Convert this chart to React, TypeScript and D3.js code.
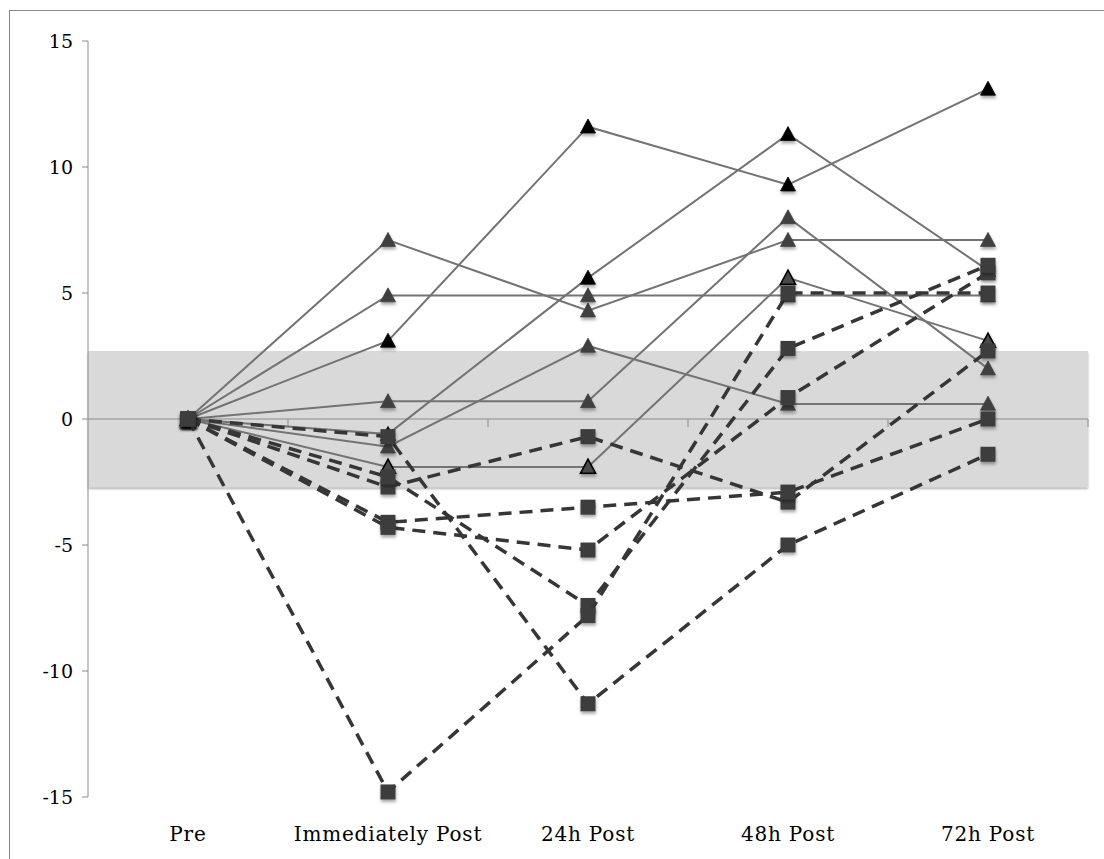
import React from "react";
import * as d3 from "d3";

const categories = ["Pre", "Immediately Post", "24h Post", "48h Post", "72h Post"];
const yTicks = [-15, -10, -5, 0, 5, 10, 15];
const bandLimit = 2.7;

// solid-line series with triangle markers
const triA = [0, 7.1, 4.3, 7.1, 7.1];
const triB = [0, 4.9, 4.9, 4.9, 4.9];
const triC = [0, 3.1, 11.6, 9.3, 13.1];
const triD = [0, 0.7, 0.7, 8.0, 2.0];
const triE = [0, -0.6, 5.6, 11.3, 5.9];
const triF = [0, -1.1, 2.9, 0.6, 0.6];
const triG = [0, -1.9, -1.9, 5.6, 3.1];

// dashed-line series with square markers
const sqA = [0, -0.7, -11.3, -5.0, -1.4];
const sqB = [0, -2.7, -0.7, -3.3, 2.7];
const sqC = [0, -4.1, -3.5, -2.9, 0.0];
const sqD = [0, -4.3, -5.2, 0.85, 5.8];
const sqE = [0, -2.3, -7.4, 2.8, 6.1];
const sqF = [0, -14.8, -7.8, 5.0, 5.0];

const triSeries = [
  { values: triA, kind: "normal" },
  { values: triB, kind: "normal" },
  { values: triC, kind: "black" },
  { values: triD, kind: "normal" },
  { values: triE, kind: "black" },
  { values: triF, kind: "normal" },
  { values: triG, kind: "outline" },
];
const sqSeries = [sqA, sqB, sqC, sqD, sqE, sqF];

export default function App() {
  const W = 1104;
  const H = 859;
  const left = 88;
  const right = 1088;
  const top = 41;
  const bottom = 797;

  const xBand = d3.scaleBand<string>().domain(categories).range([left, right]).padding(0);
  const xc = (i: number) => (xBand(categories[i]) as number) + xBand.bandwidth() / 2;
  const y = d3.scaleLinear().domain([-15, 15]).range([bottom, top]);

  const line = d3
    .line<number>()
    .x((_, i) => xc(i))
    .y((d) => y(d));

  const triPath = (cx: number, cy: number) => {
    const s = 15;
    const h = 14;
    return `M${cx},${cy - h * 0.55} L${cx + s / 2},${cy + h * 0.45} L${cx - s / 2},${cy + h * 0.45} Z`;
  };

  const font = "'DejaVu Serif', serif";

  return (
    <svg
      width={W}
      height={H}
      style={{ position: "absolute", left: 0, top: 0, background: "#fff" }}
    >
      <defs>
        <filter id="shadow" x="-50%" y="-50%" width="200%" height="220%">
          <feDropShadow dx="0.5" dy="2.5" stdDeviation="1.4" floodColor="#000" floodOpacity="0.35" />
        </filter>
        <filter id="bandShadow" x="-5%" y="-5%" width="110%" height="115%">
          <feDropShadow dx="0" dy="2" stdDeviation="1.2" floodColor="#000" floodOpacity="0.3" />
        </filter>
      </defs>

      {/* outer frame */}
      <rect x={9.5} y={10.5} width={1110} height={870} fill="none" stroke="#8a8a8a" strokeWidth={1} />

      {/* grey band */}
      <rect
        x={left}
        y={y(bandLimit)}
        width={right - left}
        height={y(-bandLimit) - y(bandLimit)}
        fill="#d9d9d9"
        filter="url(#bandShadow)"
      />

      {/* y axis */}
      <line x1={left} x2={left} y1={top} y2={bottom} stroke="#8c8c8c" strokeWidth={1} />
      {yTicks.map((t) => (
        <g key={t}>
          <line x1={left - 6} x2={left} y1={y(t)} y2={y(t)} stroke="#8c8c8c" strokeWidth={1} />
          <text
            x={73}
            y={y(t)}
            textAnchor="end"
            dominantBaseline="central"
            fontFamily={font}
            fontSize={19}
            fill="#000"
          >
            {t}
          </text>
        </g>
      ))}

      {/* x axis at zero */}
      <line x1={left} x2={right} y1={y(0)} y2={y(0)} stroke="#8c8c8c" strokeWidth={1.2} />
      {categories.map((c) => (
        <line
          key={"tk" + c}
          x1={(xBand(c) as number) + xBand.bandwidth()}
          x2={(xBand(c) as number) + xBand.bandwidth()}
          y1={y(0)}
          y2={y(0) + 8}
          stroke="#8c8c8c"
          strokeWidth={1}
        />
      ))}
      {categories.map((c, i) => (
        <text
          key={"lb" + c}
          x={xc(i)}
          y={834}
          textAnchor="middle"
          dominantBaseline="central"
          fontFamily={font}
          fontSize={20}
          letterSpacing={0.8}
          fill="#000"
        >
          {c}
        </text>
      ))}

      {/* triangle series */}
      {triSeries.map((s, si) => (
        <g key={"t" + si}>
          <path d={line(s.values) || ""} fill="none" stroke="#737373" strokeWidth={2} />
          {s.values.map((v, i) => (
            <path
              key={i}
              d={triPath(xc(i), y(v))}
              fill={s.kind === "black" ? "#000" : s.kind === "outline" ? "#4a4a4a" : "#404040"}
              stroke={s.kind === "outline" ? "#000" : s.kind === "black" ? "#000" : "#404040"}
              strokeWidth={s.kind === "outline" ? 1.6 : 0.8}
              filter="url(#shadow)"
            />
          ))}
        </g>
      ))}

      {/* square series */}
      {sqSeries.map((vals, si) => (
        <g key={"s" + si}>
          <path
            d={line(vals) || ""}
            fill="none"
            stroke="#363636"
            strokeWidth={3.5}
            strokeDasharray="13,8"
          />
          {vals.map((v, i) => (
            <rect
              key={i}
              x={xc(i) - 7.5}
              y={y(v) - 7.5}
              width={15}
              height={15}
              fill="#3c3c3c"
              filter="url(#shadow)"
            />
          ))}
        </g>
      ))}
    </svg>
  );
}
